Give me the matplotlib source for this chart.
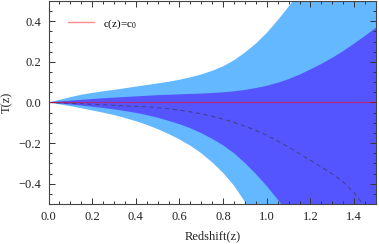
import numpy as np
import matplotlib.pyplot as plt
from matplotlib.ticker import MultipleLocator

plt.rcParams['font.family'] = ['Liberation Serif', 'DejaVu Serif']
plt.rcParams['mathtext.fontset'] = 'custom'
plt.rcParams['mathtext.rm'] = 'Liberation Serif'

# redshift grid and band edges
z = [0.0, 0.05, 0.1, 0.15, 0.2, 0.25, 0.3, 0.35, 0.4, 0.45, 0.5, 0.55, 0.6, 0.65, 0.7,
     0.75, 0.8, 0.85, 0.9, 0.95, 1.0, 1.05, 1.1, 1.15, 1.2, 1.25, 1.3, 1.35, 1.4, 1.45, 1.5]
outer_up = [0.0, 0.013, 0.026, 0.038, 0.047, 0.055, 0.062, 0.070, 0.078, 0.086, 0.094, 0.102,
            0.112, 0.124, 0.138, 0.156, 0.178, 0.208, 0.246, 0.290, 0.343, 0.405, 0.472, 0.545,
            0.62, 0.70, 0.79, 0.88, 0.98, 1.08, 1.2]
inner_up = [0.0, 0.005, 0.009, 0.013, 0.017, 0.021, 0.024, 0.027, 0.030, 0.033, 0.036, 0.038,
            0.040, 0.042, 0.044, 0.047, 0.050, 0.055, 0.062, 0.071, 0.082, 0.097, 0.115, 0.137,
            0.163, 0.19, 0.22, 0.253, 0.29, 0.328, 0.368]
inner_low = [0.0, -0.005, -0.010, -0.015, -0.021, -0.027, -0.034, -0.042, -0.051, -0.062, -0.075,
             -0.090, -0.107, -0.127, -0.151, -0.179, -0.211, -0.250, -0.298, -0.352, -0.412,
             -0.478, -0.55, -0.63, -0.72, -0.81, -0.91, -1.0, -1.1, -1.2, -1.3]
outer_low = [0.0, -0.009, -0.018, -0.028, -0.039, -0.050, -0.062, -0.076, -0.092, -0.110, -0.131,
             -0.155, -0.182, -0.213, -0.250, -0.295, -0.347, -0.410, -0.490, -0.58, -0.67,
             -0.77, -0.87, -0.97, -1.07, -1.17, -1.27, -1.37, -1.47, -1.57, -1.67]
dashed = [0.0, -0.002, -0.004, -0.006, -0.009, -0.011, -0.014, -0.017, -0.019, -0.021, -0.026,
          -0.031, -0.038, -0.046, -0.056, -0.068, -0.082, -0.098, -0.117, -0.138, -0.162, -0.19,
          -0.22, -0.252, -0.285, -0.318, -0.352, -0.39, -0.445, -0.515, -0.6]
const = [0.0] * len(z)

fig = plt.figure(figsize=(3.79, 2.44), dpi=100)
ax = fig.add_axes([0.128, 0.164, 0.864, 0.832])

ax.fill_between(z, outer_low, outer_up, color='#63b8ff', lw=0)
ax.fill_between(z, inner_low, inner_up, color='#5555ff', lw=0)
ax.plot(z, dashed, color='#3c3c78', lw=0.8, dashes=(4, 3), alpha=0.8)
ax.plot(z, const, color='red', lw=1.0, alpha=0.45, label=r'c(z)=c$_0$')

ax.set_xlim(0, 1.5)
ax.set_ylim(-0.5, 0.5)
ax.xaxis.set_major_locator(MultipleLocator(0.2))
ax.xaxis.set_minor_locator(MultipleLocator(0.05))
ax.yaxis.set_major_locator(MultipleLocator(0.2))
ax.yaxis.set_minor_locator(MultipleLocator(0.05))
ax.xaxis.set_major_formatter(plt.FuncFormatter(lambda v, p: '%.1f' % v))
ax.yaxis.set_major_formatter(plt.FuncFormatter(lambda v, p: ('\u2212%.1f' % -v) if v < -1e-9 else '%.1f' % abs(v)))
ax.tick_params(which='both', direction='in', top=True, right=True, colors='#333333',
               labelcolor='#222222', labelsize=9, width=0.7)
ax.tick_params(which='major', length=4, pad=5)
ax.tick_params(which='minor', length=2)
for s in ax.spines.values():
    s.set_color('#444444')
    s.set_linewidth(0.8)

ax.set_xlabel('Redshift(z)', fontsize=9, color='#222222', labelpad=5)
ax.set_ylabel('T(z)', fontsize=9, color='#222222', labelpad=4)

ax.legend(loc='upper left', bbox_to_anchor=(0.03, 0.97), frameon=False, fontsize=8,
          handlelength=2.3, handletextpad=0.8)

fig.savefig('out.png', dpi=100)
